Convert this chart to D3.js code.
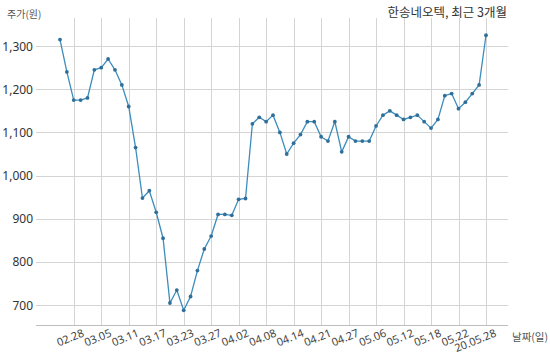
<!DOCTYPE html>
<html><head><meta charset="utf-8">
<script src="https://cdn.jsdelivr.net/npm/d3@7"></script>
<style>
html,body{margin:0;padding:0;background:#fff;}
svg{display:block;font-family:"Noto Sans","Noto Sans CJK KR",sans-serif;}
</style></head>
<body><svg id="c" width="550" height="361"></svg>
<script>
const title = "한송네오텍, 최근 3개월";
const yTitle = "주가(원)";
const xTitle = "날짜(일)";
const dates = ["02.26","02.27","02.28","03.02","03.03","03.04","03.05","03.06","03.09","03.10","03.11","03.12","03.13","03.16","03.17","03.18","03.19","03.20","03.23","03.24","03.25","03.26","03.27","03.30","03.31","04.01","04.02","04.03","04.06","04.07","04.08","04.09","04.10","04.13","04.14","04.16","04.17","04.20","04.21","04.22","04.23","04.24","04.27","04.28","04.29","05.04","05.06","05.07","05.08","05.11","05.12","05.13","05.14","05.15","05.18","05.19","05.20","05.21","05.22","05.25","05.26","05.27","05.28"];
const prices = [1315,1240,1175,1175,1180,1245,1250,1270,1245,1210,1160,1065,948,965,915,855,705,735,688,720,780,830,860,910,910,908,945,947,1120,1135,1125,1140,1100,1050,1075,1095,1125,1125,1090,1080,1125,1055,1090,1080,1080,1080,1115,1140,1150,1140,1130,1135,1140,1125,1110,1130,1185,1190,1155,1170,1190,1210,1325];
const tickDates = ["02.28","03.05","03.11","03.17","03.23","03.27","04.02","04.08","04.14","04.21","04.27","05.06","05.12","05.18","05.22","05.28"];
const tickLabels = ["02.28","03.05","03.11","03.17","03.23","03.27","04.02","04.08","04.14","04.21","04.27","05.06","05.12","05.18","05.22","20.05.28"];
const yTicks = [700,800,900,1000,1100,1200,1300];

const svg = d3.select("#c");
const x = d3.scalePoint().domain(dates).range([60, 486]);
const y = d3.scaleLinear().domain([654, 1365]).range([325, 18]);
const left = 36, right = 508;

// horizontal gridlines
svg.append("g").selectAll("line").data(yTicks).join("line")
  .attr("x1", left).attr("x2", right)
  .attr("y1", d => Math.round(y(d)) + 0.5).attr("y2", d => Math.round(y(d)) + 0.5)
  .attr("stroke", "#d4d4d4").attr("stroke-width", 1);
// vertical gridlines
svg.append("g").selectAll("line").data(tickDates).join("line")
  .attr("x1", d => Math.round(x(d)) + 0.5).attr("x2", d => Math.round(x(d)) + 0.5)
  .attr("y1", y.range()[1]).attr("y2", y.range()[0])
  .attr("stroke", "#d4d4d4").attr("stroke-width", 1);
// x axis line
svg.append("line").attr("x1", left).attr("x2", right)
  .attr("y1", y.range()[0] + 0.5).attr("y2", y.range()[0] + 0.5)
  .attr("stroke", "#bdbdbd");

// y labels
svg.append("g").selectAll("text").data(yTicks).join("text")
  .attr("x", 33).attr("y", d => y(d) + 4.5)
  .attr("text-anchor", "end").attr("font-size", 12).attr("fill", "#333")
  .text(d => d3.format(",")(d));

// x labels
svg.append("g").selectAll("text").data(tickDates).join("text")
  .attr("transform", d => `translate(${x(d) + 11},${336}) rotate(-22)`)
  .attr("text-anchor", "end").attr("font-size", 11).attr("fill", "#444")
  .text((d, i) => tickLabels[i]);

// line
svg.append("path").datum(prices)
  .attr("fill", "none").attr("stroke", "#3c8dbc").attr("stroke-width", 1.3)
  .attr("d", d3.line().x((d, i) => x(dates[i])).y(d => y(d)));
svg.append("g").selectAll("circle").data(prices).join("circle")
  .attr("cx", (d, i) => x(dates[i])).attr("cy", d => y(d)).attr("r", 1.9)
  .attr("fill", "#2f6f99");

// titles
svg.append("text").attr("x", 507).attr("y", 17).attr("text-anchor", "end")
  .attr("font-size", 12.5).attr("fill", "#333").attr("font-family", "Noto Sans CJK KR").text(title);
svg.append("text").attr("x", 7).attr("y", 18).attr("font-size", 10).attr("fill", "#555")
  .attr("font-family", "Noto Sans CJK KR").text(yTitle);
svg.append("text").attr("x", 512).attr("y", 341).attr("font-size", 10.5).attr("fill", "#555")
  .attr("font-family", "Noto Sans CJK KR").text(xTitle);
</script></body></html>
